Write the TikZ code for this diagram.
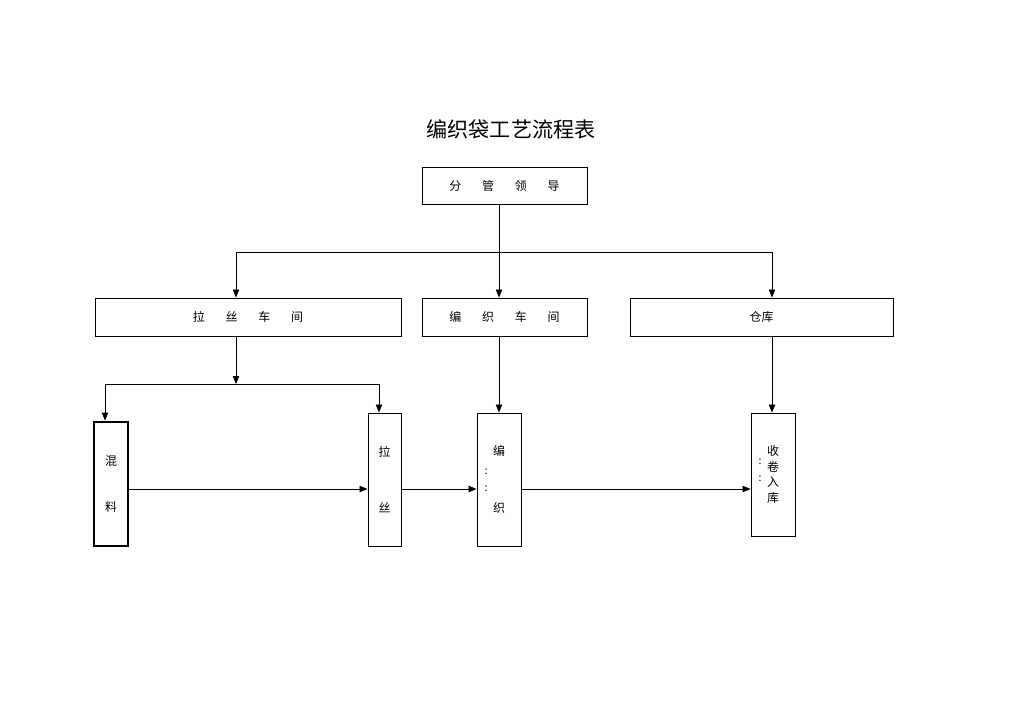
\documentclass[tikz,border=0pt]{standalone}
\usepackage{fontspec}
\setmainfont{Noto Sans CJK SC}
\usetikzlibrary{arrows.meta}
\newcommand\gap{\hspace{0.52cm}}
\begin{document}
\begin{tikzpicture}[x=0.025cm,y=-0.025cm,
            box/.style={rectangle, draw, line width=0.6pt, font=\fontsize{8.5}{10}\selectfont, align=center, inner sep=0pt},
            dotmark/.style={font=\fontsize{7.5}{8}\selectfont, inner sep=0pt},
            arr/.style={-{Triangle[length=2mm,width=1.6mm]}},
            every path/.style={line width=0.6pt}
        ]
            \useasboundingbox (0,0) rectangle (1024,724);
            \node(title) at (511,129) [font=\fontsize{15}{18}\selectfont] {编织袋工艺流程表};
            % top and workshops
            \node(lead) at (504.5,185.5) [box, minimum width=4.125cm, minimum height=0.925cm] {分\gap 管\gap 领\gap 导};
            \node(lasiws) at (248,317) [box, minimum width=7.65cm, minimum height=0.95cm] {拉\gap 丝\gap 车\gap 间};
            \node(bianzhiws) at (504.5,317) [box, minimum width=4.125cm, minimum height=0.95cm] {编\gap 织\gap 车\gap 间};
            \node(cangku) at (761.5,317) [box, minimum width=6.575cm, minimum height=0.95cm] {仓库};
            % process steps
            \node(hunliao) at (111,484) [box, line width=2pt, minimum width=0.85cm, minimum height=3.1cm] {混\\[0.82cm]料};
            \node(lasi) at (384.5,479.5) [box, minimum width=0.825cm, minimum height=3.325cm] {拉\\[1.07cm]丝};
            \node(bianzhi) at (499,479.5) [box, minimum width=1.1cm, minimum height=3.325cm] {编\\[1.07cm]织};
            \node(shoujuan) at (773,474.5) [box, minimum width=1.1cm, minimum height=3.075cm, font=\fontsize{8.5}{11.3}\selectfont] {收\\卷\\入\\库};
            \node(bzmarkA) at (486,472) [dotmark] {:};
            \node(bzmarkB) at (486,489) [dotmark] {:};
            \node(sjmarkA) at (760,462) [dotmark] {:};
            \node(sjmarkB) at (760,479) [dotmark] {:};
            % connectors
            \coordinate (hub) at (499,252);
            \coordinate (hubL) at (236,252);
            \coordinate (hubR) at (772,252);
            \draw (hub |- lead.south) -- (hub);
            \draw (hubL) -- (hubR);
            \draw[arr] (hubL) -- (hubL |- lasiws.north);
            \draw[arr] (hub) -- (hub |- bianzhiws.north);
            \draw[arr] (hubR) -- (hubR |- cangku.north);
            \coordinate (split) at (236,384);
            \coordinate (splitL) at (105,384);
            \coordinate (splitR) at (379,384);
            \draw[arr] (split |- lasiws.south) -- (split);
            \draw (splitL) -- (splitR);
            \draw[arr] (splitL) -- (splitL |- hunliao.north);
            \draw[arr] (splitR) -- (splitR |- lasi.north);
            \draw[arr] (bianzhi.north |- bianzhiws.south) -- (bianzhi.north);
            \draw[arr] (hubR |- cangku.south) -- (hubR |- shoujuan.north);
            \coordinate (flow) at (0,489);
            \draw[arr] (hunliao.east |- flow) -- (lasi.west |- flow);
            \draw[arr] (lasi.east |- flow) -- (bianzhi.west |- flow);
            \draw[arr] (bianzhi.east |- flow) -- (shoujuan.west |- flow);
        \end{tikzpicture}
\end{document}
